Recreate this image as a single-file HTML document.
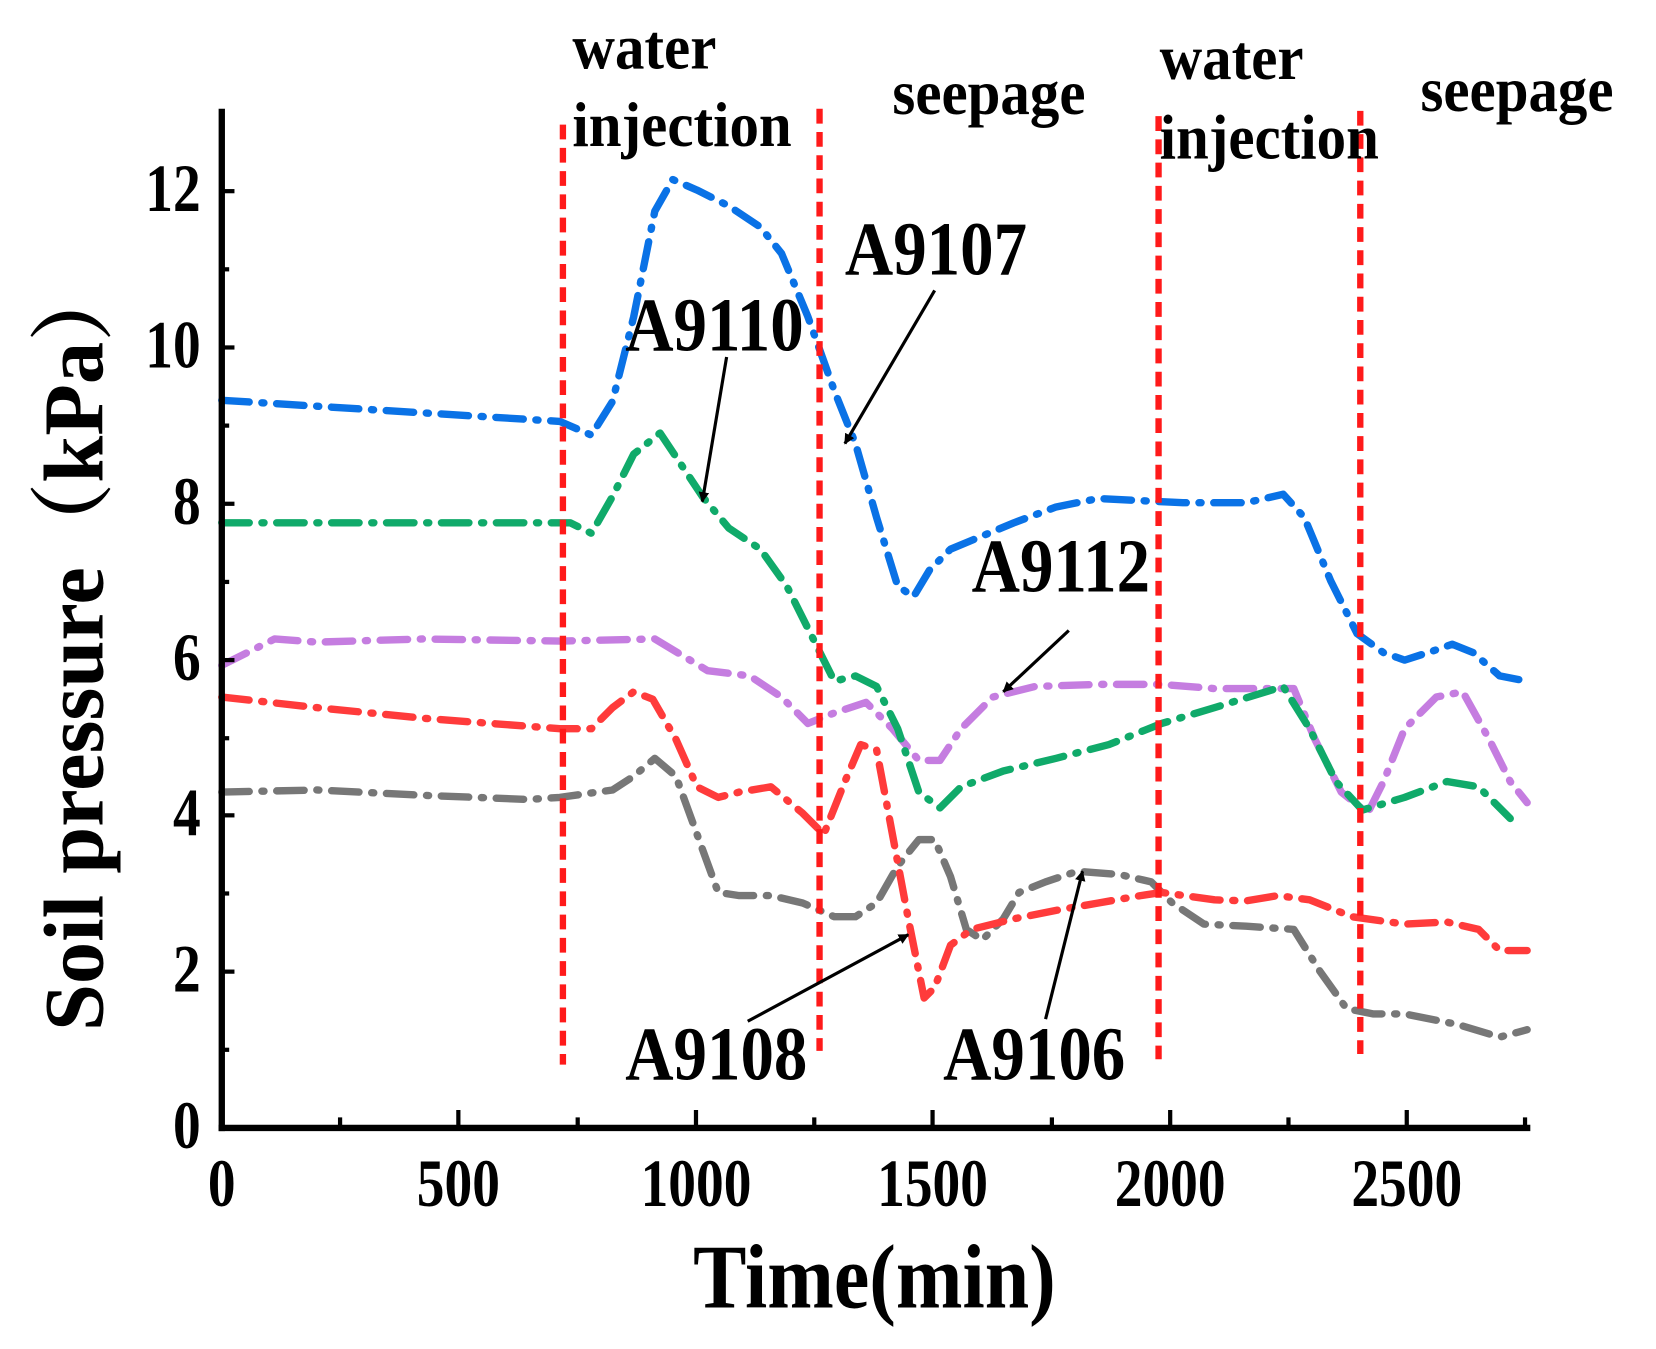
<!DOCTYPE html>
<html><head><meta charset="utf-8"><style>html,body{margin:0;padding:0;background:#fff}svg{display:block}</style></head>
<body>
<svg width="1656" height="1349" viewBox="0 0 1568 1277.3" xmlns="http://www.w3.org/2000/svg" font-family="'Liberation Serif',serif" font-weight="bold">
<g fill="none" stroke-width="7" stroke-linejoin="round" stroke-linecap="round" stroke-dasharray="26 12 2 12">
<polyline stroke="#777777" points="210,750 300,748 400,753 500,757 530,755 580,748 600,735 620,718 640,735 660,790 680,845 700,848 730,848 760,855 790,868 810,868 830,855 850,820 870,795 885,795 900,830 915,880 930,890 950,870 965,845 990,835 1020,825 1060,828 1090,835 1110,855 1140,875 1180,877 1225,880 1250,920 1275,955 1300,960 1330,960 1380,970 1420,982 1446,975"/>
<polyline stroke="#ff3b3b" points="210,660 300,670 400,680 530,690 560,690 580,670 600,655 618,662 640,700 660,745 680,755 700,750 730,745 760,770 780,790 800,740 815,705 830,710 845,790 860,870 875,945 885,935 900,895 920,880 960,870 1000,862 1040,855 1080,848 1100,845 1150,852 1180,853 1210,848 1240,852 1280,868 1330,875 1370,873 1400,880 1420,900 1446,900"/>
<polyline stroke="#c57de0" points="210,630 260,605 300,608 400,605 530,607 620,605 645,620 670,635 710,640 740,660 765,685 790,675 820,665 845,690 870,720 890,720 910,690 940,660 980,650 1040,648 1100,648 1150,652 1225,652 1245,700 1270,750 1295,770 1310,740 1330,690 1360,660 1385,655 1410,700 1430,740 1446,760"/>
<polyline stroke="#10aa6a" points="210,495 540,495 560,505 580,470 600,430 625,410 645,440 665,470 690,500 720,520 745,555 770,605 790,645 810,640 830,650 850,690 870,750 890,765 910,745 950,730 1000,718 1050,705 1100,685 1150,670 1215,650 1240,690 1265,740 1290,767 1330,755 1370,740 1400,745 1430,775"/>
<polyline stroke="#0a72e6" points="210,379 530,399 560,412 580,380 600,300 620,200 637,170 660,180 690,195 720,215 740,240 765,300 790,370 810,420 830,490 850,555 865,565 880,540 900,520 960,495 1000,480 1040,472 1080,474 1120,476 1180,476 1215,468 1235,490 1260,550 1285,600 1310,618 1330,625 1355,617 1375,610 1395,618 1420,640 1446,645"/>
</g>
<g stroke="#ff1a1a" stroke-width="6" stroke-dasharray="14 8">
<line x1="533" y1="118" x2="533" y2="1008"/><line x1="776" y1="103" x2="776" y2="995"/>
<line x1="1097" y1="110" x2="1097" y2="1003"/><line x1="1288" y1="105" x2="1288" y2="998"/>
</g>
<g stroke="#000" stroke-width="6">
<line x1="210" y1="103" x2="210" y2="1071"/><line x1="207" y1="1068" x2="1449" y2="1068"/>
</g>
<g stroke="#000" stroke-width="4">
<line x1="210" y1="181" x2="222" y2="181"/><line x1="210" y1="329" x2="222" y2="329"/><line x1="210" y1="477" x2="222" y2="477"/><line x1="210" y1="625" x2="222" y2="625"/><line x1="210" y1="772" x2="222" y2="772"/><line x1="210" y1="920" x2="222" y2="920"/>
<line x1="210" y1="255" x2="217" y2="255"/><line x1="210" y1="403" x2="217" y2="403"/><line x1="210" y1="551" x2="217" y2="551"/><line x1="210" y1="699" x2="217" y2="699"/><line x1="210" y1="846" x2="217" y2="846"/><line x1="210" y1="994" x2="217" y2="994"/>
<line x1="434" y1="1068" x2="434" y2="1051"/><line x1="659" y1="1068" x2="659" y2="1051"/><line x1="883" y1="1068" x2="883" y2="1051"/><line x1="1108" y1="1068" x2="1108" y2="1051"/><line x1="1332" y1="1068" x2="1332" y2="1051"/>
<line x1="322" y1="1068" x2="322" y2="1058"/><line x1="547" y1="1068" x2="547" y2="1058"/><line x1="771" y1="1068" x2="771" y2="1058"/><line x1="996" y1="1068" x2="996" y2="1058"/><line x1="1220" y1="1068" x2="1220" y2="1058"/><line x1="1444" y1="1068" x2="1444" y2="1058"/>
</g>
<g font-size="64" text-anchor="end">
<text transform="translate(190,200) scale(0.82,1)">12</text><text transform="translate(190,348) scale(0.82,1)">10</text><text transform="translate(190,496) scale(0.82,1)">8</text><text transform="translate(190,644) scale(0.82,1)">6</text><text transform="translate(190,791) scale(0.82,1)">4</text><text transform="translate(190,939) scale(0.82,1)">2</text><text transform="translate(190,1087) scale(0.82,1)">0</text>
</g>
<g font-size="64" text-anchor="middle">
<text transform="translate(210,1142) scale(0.82,1)">0</text><text transform="translate(434,1142) scale(0.82,1)">500</text><text transform="translate(659,1142) scale(0.82,1)">1000</text><text transform="translate(883,1142) scale(0.82,1)">1500</text><text transform="translate(1108,1142) scale(0.82,1)">2000</text><text transform="translate(1332,1142) scale(0.82,1)">2500</text>
</g>
<text transform="translate(828,1238) scale(0.88,1)" font-size="86" text-anchor="middle">Time(min)</text>
<text transform="translate(97,610) rotate(-90)" font-size="80" text-anchor="middle" font-family="'Liberation Serif','Noto Serif CJK SC',serif">Soil pressure（kPa）</text>
<g font-size="60">
<text transform="translate(542,65) scale(0.93,1)">water</text><text transform="translate(542,138) scale(0.93,1)">injection</text>
<text transform="translate(845,108) scale(0.93,1)">seepage</text>
<text transform="translate(1098,75) scale(0.93,1)">water</text><text transform="translate(1098,150) scale(0.93,1)">injection</text>
<text transform="translate(1345,105) scale(0.93,1)">seepage</text>
</g>
<g font-size="72">
<text transform="translate(800,260) scale(0.88,1)">A9107</text><text transform="translate(592,332) scale(0.88,1)">A9110</text><text transform="translate(920,560) scale(0.88,1)">A9112</text>
<text transform="translate(592,1022) scale(0.88,1)">A9108</text><text transform="translate(893,1022) scale(0.88,1)">A9106</text>
</g>
<defs><marker id="ah" markerWidth="10" markerHeight="10" refX="9" refY="5" orient="auto" markerUnits="userSpaceOnUse" viewBox="0 0 10 10"><path d="M0,0 L10,5 L0,10 z" fill="#000"/></marker></defs>
<g stroke="#000" stroke-width="3" marker-end="url(#ah)">
<line x1="885" y1="275" x2="800" y2="420"/><line x1="688" y1="338" x2="665" y2="475"/><line x1="1012" y1="597" x2="950" y2="655"/><line x1="708" y1="967" x2="860" y2="885"/><line x1="990" y1="965" x2="1025" y2="825"/>
</g>
</svg>
</body></html>
